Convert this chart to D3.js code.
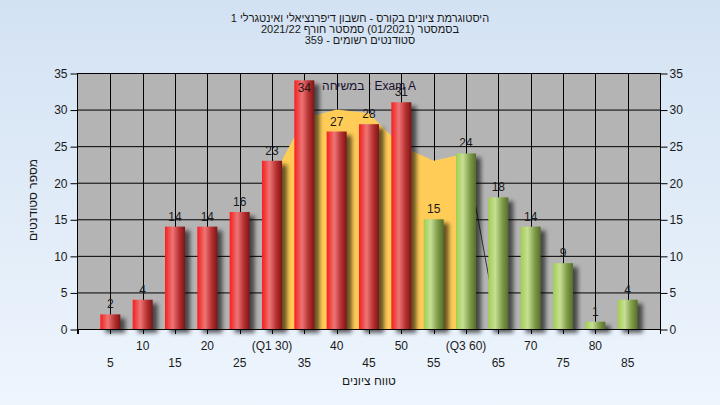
<!DOCTYPE html>
<html><head><meta charset="utf-8">
<script src="https://cdn.jsdelivr.net/npm/d3@7"></script>
<style>
html,body{margin:0;padding:0;}
body{width:720px;height:405px;overflow:hidden;}
text{font-family:"Liberation Sans",Arial,sans-serif;}
</style></head>
<body>
<svg id="chart" width="720" height="405"></svg>
<script>
// ---- data ----
const titleLines = [
  "היסטוגרמת ציונים בקורס - חשבון דיפרנציאלי ואינטגרלי 1",
  "בסמסטר  (01/2021)  סמסטר חורף 2021/22",
  "סטודנטים רשומים - 359"
];
const legendText = "במשיחה : Exam A";
const yTitle = "מספר סטודנטים";
const xTitle = "טווח ציונים";
const grades = [5,10,15,20,25,30,35,40,45,50,55,60,65,70,75,80,85];
const counts = [2,4,14,14,16,23,34,27,28,31,15,24,18,14,9,1,4];
const passFrom = 55;
const iqrX = [30,35,40,45,50,55,60];
const iqrY = [20.5,28.8,30,29.5,25,23,24];
const tailX = [60,65];
const tailY = [24,0];
const yTicks = [0,5,10,15,20,25,30,35];
const xTickMarks = [0,5,10,15,20,25,30,35,40,45,50,55,60,65,70,75,80,85,90];
const xRow1Pos = [10,20,30,40,50,60,70,80];
const xRow1Labels = ["10","20","(Q1 30)","40","50","(Q3 60)","70","80"];
const xRow2Pos = [5,15,25,35,45,55,65,75,85];
const xRow2Labels = ["5","15","25","35","45","55","65","75","85"];

// ---- layout ----
const L = 78, R = 660, T = 73, B = 329;
const svg = d3.select("#chart");
const x = d3.scaleLinear().domain([0,90]).range([L,R]);
const y = d3.scaleLinear().domain([0,35]).range([B,T]);
const barW = 20;

const defs = svg.append("defs");
const bg = defs.append("linearGradient").attr("id","bg").attr("x1",0).attr("y1",0).attr("x2",0).attr("y2",1);
bg.append("stop").attr("offset","0%").attr("stop-color","#d3e2f3");
bg.append("stop").attr("offset","100%").attr("stop-color","#eef5fd");
function cyl(id, stops){
  const g = defs.append("linearGradient").attr("id",id).attr("x1",0).attr("y1",0).attr("x2",1).attr("y2",0);
  stops.forEach(s=>g.append("stop").attr("offset",s[0]).attr("stop-color",s[1]));
}
cyl("red",[["0%","#ff1c1c"],["12%","#f03a3a"],["38%","#ee7575"],["70%","#b83333"],["100%","#7e1414"]]);
cyl("green",[["0%","#a2cc52"],["12%","#afd466"],["35%","#c6df96"],["70%","#7f9c48"],["100%","#556f2a"]]);
const f = defs.append("filter").attr("id","blur").attr("x","-50%").attr("y","-50%").attr("width","200%").attr("height","200%");
f.append("feGaussianBlur").attr("stdDeviation",2.2);

svg.append("rect").attr("width",720).attr("height",405).attr("fill","url(#bg)");

// plot background
svg.append("rect").attr("x",L).attr("y",T).attr("width",R-L).attr("height",B-T).attr("fill","#b4b4b4");

// grid
svg.append("g").selectAll("line").data(yTicks).join("line")
  .attr("x1",L).attr("x2",R).attr("y1",d=>y(d)+0.5).attr("y2",d=>y(d)+0.5)
  .attr("stroke","#000").attr("stroke-width",1);
svg.append("g").selectAll("line").data(grades).join("line")
  .attr("x1",d=>Math.round(x(d))+0.5).attr("x2",d=>Math.round(x(d))+0.5).attr("y1",T).attr("y2",B)
  .attr("stroke","#000").attr("stroke-width",1);

// IQR area
const area = d3.area().x((d,i)=>x(iqrX[i])).y0(y(0)).y1(d=>y(d));
svg.append("path").datum(iqrY).attr("d",area).attr("fill","#ffcc58");
const tail = d3.line().x((d,i)=>x(tailX[i])).y(d=>y(d));
svg.append("path").datum(tailY).attr("d",tail).attr("fill","none").attr("stroke","#333").attr("stroke-width",1);

// bars: shadows
const bars = grades.map((g,i)=>({g, v:counts[i]}));
svg.append("g").selectAll("rect").data(bars).join("rect")
  .attr("x",d=>x(d.g)-barW/2+5).attr("y",d=>y(d.v)+4)
  .attr("width",barW).attr("height",d=>y(0)-y(d.v))
  .attr("fill","#000").attr("opacity",0.6).attr("filter","url(#blur)");
svg.append("g").selectAll("rect").data(bars).join("rect")
  .attr("x",d=>x(d.g)-barW/2).attr("y",d=>y(d.v))
  .attr("width",barW).attr("height",d=>y(0)-y(d.v))
  .attr("fill",d=>d.g>=passFrom?"url(#green)":"url(#red)");

// axes lines
svg.append("line").attr("x1",L-0.5).attr("x2",L-0.5).attr("y1",T).attr("y2",B+5).attr("stroke","#000");
svg.append("line").attr("x1",R+0.5).attr("x2",R+0.5).attr("y1",T).attr("y2",B+5).attr("stroke","#000");
svg.append("line").attr("x1",L).attr("x2",R).attr("y1",B+0.5).attr("y2",B+0.5).attr("stroke","#000");

// y axes
const yl = d3.axisLeft(y).tickValues(yTicks).tickSize(7).tickPadding(3);
const yr = d3.axisRight(y).tickValues(yTicks).tickSize(7).tickPadding(2);
function styleAxis(g){
  g.select(".domain").remove();
  g.selectAll(".tick line").attr("stroke","#000");
  g.selectAll(".tick text").attr("fill","#1a1a1a").style("font-size","12px").style("font-family","'Liberation Sans',Arial,sans-serif");
}
svg.append("g").attr("transform",`translate(${L-0.5},0.5)`).call(yl).call(styleAxis);
svg.append("g").attr("transform",`translate(${R+0.5},0.5)`).call(yr).call(styleAxis);

// x ticks
svg.append("g").selectAll("line").data(xTickMarks).join("line")
  .attr("x1",d=>Math.round(x(d))+0.5).attr("x2",d=>Math.round(x(d))+0.5).attr("y1",B).attr("y2",B+5)
  .attr("stroke","#000");
svg.append("g").selectAll("text").data(xRow1Pos).join("text")
  .attr("x",d=>x(d)).attr("y",350).attr("text-anchor","middle")
  .attr("font-size",12).attr("fill","#1a1a1a").text((d,i)=>xRow1Labels[i]);
svg.append("g").selectAll("text").data(xRow2Pos).join("text")
  .attr("x",d=>x(d)).attr("y",367).attr("text-anchor","middle")
  .attr("font-size",12).attr("fill","#1a1a1a").text((d,i)=>xRow2Labels[i]);

// value labels
svg.append("g").selectAll("text").data(bars).join("text")
  .attr("x",d=>x(d.g)).attr("y",d=>Math.max(y(d.v)-6, T+19))
  .attr("text-anchor","middle").attr("font-size",12).attr("fill","#1a1a1a")
  .text(d=>d.v);

// legend text
svg.append("text").attr("x",(L+R)/2).attr("y",90).attr("text-anchor","middle")
  .attr("font-size",12).attr("fill","#1a1030").text(legendText);

// titles
svg.append("g").selectAll("text").data(titleLines).join("text")
  .attr("x",360).attr("y",(d,i)=>22+i*11).attr("text-anchor","middle")
  .attr("direction","rtl").attr("font-size",11).attr("fill","#1a1a1a").text(d=>d);

svg.append("text").attr("transform","translate(37,200) rotate(-90)").attr("text-anchor","middle")
  .attr("direction","rtl").attr("font-size",12).attr("fill","#1a1a1a").text(yTitle);
svg.append("text").attr("x",(L+R)/2).attr("y",385).attr("text-anchor","middle")
  .attr("direction","rtl").attr("font-size",12).attr("fill","#1a1a1a").text(xTitle);
</script>
</body></html>
